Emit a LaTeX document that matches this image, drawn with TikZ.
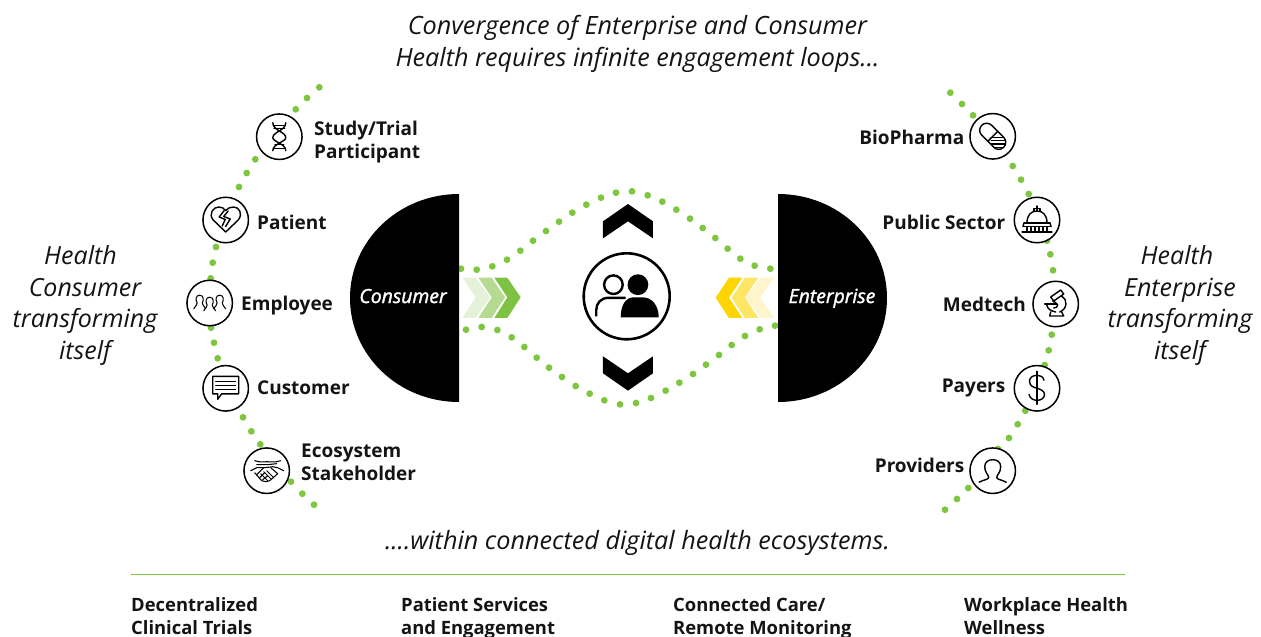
\documentclass[tikz,border=0pt]{standalone}
\usepackage{fontspec}
\setmainfont{Open Sans}
\newfontfamily\semiit[UprightFont={* Italic},FakeBold=1.6]{Open Sans}
\definecolor{gdot}{HTML}{7FC640}
\definecolor{g1}{HTML}{7DC242}
\definecolor{g2}{HTML}{B5DB93}
\definecolor{g3}{HTML}{E5F1D9}
\definecolor{y1}{HTML}{FFD500}
\definecolor{y2}{HTML}{FFE566}
\definecolor{y3}{HTML}{FFF5CC}
\tikzset{
  ring/.style={circle,draw=black,fill=white,line width=1.5pt,minimum size=45.5pt,inner sep=0pt},
  lab/.style={font=\fontsize{19}{22.8}\selectfont\bfseries,align=left,inner sep=0pt,text=black!92},
  lowlab/.style={font=\fontsize{18.4}{23}\selectfont\bfseries,align=left,inner sep=0pt,text=black!92},
  head/.style={font=\fontsize{25.2}{32}\selectfont\itshape,align=center,inner sep=0pt,text=black!92},
  side/.style={font=\fontsize{25}{31.7}\selectfont\itshape,align=center,inner sep=0pt,text=black!92},
  disclab/.style={font=\fontsize{19.4}{22}\selectfont\semiit,text=white,inner sep=0pt,anchor=base},
  ico/.style={line width=1.4pt,line join=round,line cap=round},
  thin ico/.style={line width=1.05pt,line join=round,line cap=round},
}
\begin{document}
\begin{tikzpicture}[x=1pt,y=-1pt]
\useasboundingbox (0,0) rectangle (1261,637);
% dotted arcs
\foreach \x/\y in {319.3/87.3,307/98,295.7/109.3,255.3/159.3,246.7/173,239/187,216/247,212.7/262.7,210.7/278.3,211/327.7,214/342.7,217.7/358.3,243/417.3,251.3/431.3,260.3/444.3,291/481.7,302.3/493.7,314/504.7,
950.3/92.7,962/104,973/115.3,1012.7/166,1021/179.7,1028.7/194,1047/240.7,1050.3/254.3,1053/270.3,1051.7/334.7,1048.7/350.3,1044.7/365,1025.3/410.7,1017.7/424.3,1009/438,998/449,968.3/488,957/499,945/509.7}
  \fill[gdot] (\x,\y) circle (3.4);
\foreach \x/\y in {33/266,80/269,127/259,171/239,211/212,249/182,288/153,327/125,367/98,409/74,453/53,498/38,546/34,593/46,637/65,679/89,720/116,758/144,796/174,833/206,871/236,914/257,961/266,
48/449,95/441,142/450,185/472,223/501,260/533,297/563,336/591,377/618,419/641,463/661,510/673,558/669,603/654,647/632,688/608,729/582,768/554,807/525,845/495,885/468,929/448,975/437}
  \fill[gdot] (450+\x/3,180+\y/3) circle (3.4);
% half discs
\fill[black] (459,194) arc[start angle=-90,end angle=-270,x radius=109,y radius=104] -- cycle;
\fill[black] (778,194) arc[start angle=-90,end angle=90,x radius=109,y radius=104] -- cycle;
\node[disclab] (consumer) at (403,303) {Consumer};
\node[disclab] (enterprise) at (832,303) {Enterprise};
% chevrons
\begin{scope}[shift={(450,180)},x=.3333pt,y=-.3333pt]
\fill[g3] (37,293)--(77,293)--(120,352)--(77,414)--(37,414)--(77,352)--cycle;
\fill[g2] (85,293)--(125,293)--(165,352)--(125,414)--(85,414)--(125,352)--cycle;
\fill[g1] (133,293)--(172,293)--(212,352)--(172,414)--(133,414)--(172,352)--cycle;
\fill[y3] (973,293)--(933,293)--(887,353)--(933,414)--(973,414)--(930,353)--cycle;
\fill[y2] (925,293)--(885,293)--(845,353)--(885,414)--(925,414)--(885,353)--cycle;
\fill[y1] (877,293)--(837,293)--(797,353)--(837,414)--(877,414)--(837,353)--cycle;
\fill[black] (459,124)--(534,72)--(609,124)--(609,175)--(534,124)--(459,175)--cycle;
\fill[black] (459,529)--(534,580)--(609,529)--(609,580)--(534,632)--(459,580)--cycle;
\end{scope}
% centre icon
\node[circle,draw=black,line width=2.6pt,minimum size=86pt,inner sep=0pt] (users) at (626.7,296.3) {};
\begin{scope}[shift={(users.center)}]
\draw[line width=2.4pt] (-13.3,-11.6) circle (9.3);
\fill (11.2,-11.6) circle (10.4);
\draw[line width=2.4pt] (-30.5,20) -- (-30.5,14) .. controls (-30.5,7) and (-26,1.5) .. (-18,1.5) -- (-1,1.5);
\fill (-6,21) .. controls (-6,9) and (-1,1) .. (7,1) -- (16,1) .. controls (25,1) and (32,9) .. (32,21) -- cycle;
\end{scope}
% rings
\node[ring] (study) at (279.3,136.7) {};
\node[ring] (patient) at (225.7,220) {};
\node[ring] (employee) at (209.7,303) {};
\node[ring] (customer) at (225.7,388.3) {};
\node[ring] (eco) at (266.7,470.7) {};
\node[ring] (bio) at (992.7,136.3) {};
\node[ring] (public) at (1037,220) {};
\node[ring] (medtech) at (1055.7,304) {};
\node[ring] (payers) at (1037,388.3) {};
\node[ring] (providers) at (992.7,470.7) {};
% DNA
\begin{scope}[shift={(study.center)},ico]
\draw (-6.5,-14) .. controls (-6.5,-6) and (6.5,-5) .. (6.5,1) .. controls (6.5,5) and (-6.5,7) .. (-6.5,14);
\draw (6.5,-14) .. controls (6.5,-6) and (-6.5,-5) .. (-6.5,1) .. controls (-6.5,5) and (6.5,7) .. (6.5,14);
\draw[thin ico] (-6,-11.5)--(6,-11.5) (-5.5,-8)--(5.5,-8) (-4.5,8)--(4.5,8) (-6,11.5)--(6,11.5);
\end{scope}
% broken heart
\begin{scope}[shift={(patient.center)},ico]
\draw (0,12) -- (-12.5,0) .. controls (-17.5,-6) and (-12.5,-13) .. (-7,-13) .. controls (-4,-13) and (-2,-12) .. (0,-9.5) .. controls (2,-12) and (5,-13) .. (8,-13) .. controls (13.5,-13) and (17.5,-6) .. (12.5,0) -- cycle;
\draw (-1.5,-9.5) -- (-6.5,-3) -- (-.5,-.5) -- (-3.5,6);
\draw (2.5,-9) -- (-2,-3.5) -- (4.5,-1) -- (0,6.5);
\end{scope}
% people
\begin{scope}[shift={(employee.center)},thin ico]
\foreach \d/\e/\s in {-10/-1/.85,0/1/.85,10/-1/.85}{
\begin{scope}[shift={(\d,\e)},scale=\s]
\draw (-7,8) .. controls (-6,4) and (-2,4) .. (-3,1) .. controls (-5,-2) and (-5,-8) .. (0,-8) .. controls (5,-8) and (5,-2) .. (3,1) .. controls (2,4) and (6,4) .. (7,8);
\end{scope}}
\end{scope}
% speech
\begin{scope}[shift={(customer.center)},ico]
\draw (-13,-12) -- (13,-12) -- (13,5.5) -- (-4,5.5) -- (-8,11) -- (-8,5.5) -- (-13,5.5) -- cycle;
\draw[thin ico] (-10,-7)--(10,-7) (-10,-3)--(10,-3) (-10,1)--(10,1);
\end{scope}
% handshake
\begin{scope}[shift={(eco.center)},thin ico]
\draw (-12,-10) .. controls (-6,-8) and (-3,-9) .. (0,-9) .. controls (4,-9) and (8,-8) .. (14,-10);
\draw (-10,-6) -- (-2,-6) .. controls (3,-6) and (8,-7) .. (10,-7);
\draw (-16,0) -- (-10,-3) -- (-2,-3) -- (6,-4) -- (11,-3) -- (17,0);
\draw (-12,2) -- (-5,10) -- (-1,11) -- (3,10) -- (11,3) -- (4,-3);
\draw (-6,3) -- (1,10) (-3,1) -- (4,8) (0,0) -- (7,7);
\draw (-10,4) -- (-3,-3) (-7,7) -- (-2,2) (-4,9) -- (1,5);
\end{scope}
% pill (y is flipped, so a negative angle tilts it down to the right)
\begin{scope}[shift={(bio.center)},ico]
\draw[rotate=-45,rounded corners=6.9pt] (-15.5,-7) rectangle (15.5,7);
\draw[rotate=-45] (0,-7) -- (0,7);
\begin{scope}
\clip[rotate=-45,rounded corners=6.9pt] (0,-7) rectangle (15.5,7) (0,-7) rectangle (0,7);
\draw[thin ico] (-12,1)--(20,1) (-12,4.3)--(20,4.3) (-12,7.7)--(20,7.7) (-12,11)--(20,11);
\end{scope}
\end{scope}
% capitol
\begin{scope}[shift={(public.center)},ico]
\draw (-13,3) -- (13,3) (-14,6.5) -- (14,6.5);
\draw (-13,3) -- (-14,6.5) (13,3) -- (14,6.5);
\draw (-10,3) .. controls (-10,-5) and (-6,-9) .. (0,-9) .. controls (6,-9) and (10,-5) .. (10,3);
\draw (0,-9) -- (0,-14);
\draw (-3,-9) -- (-3,-11.5) -- (3,-11.5) -- (3,-9);
\draw[thin ico] (-15,12) -- (15,12);
\foreach \d in {-11,-7,-3,1,5,9} \draw[thin ico] (\d+1,7.5)--(\d+1,10.5);
\end{scope}
% microscope
\begin{scope}[shift={(medtech.center)},ico]
\draw (-5,-7) -- (5,-14) -- (8,-10) -- (-2,-3) -- cycle;
\draw (6,-8) .. controls (12,-5) and (12,5) .. (4,8);
\draw (-11,0) -- (1,0);
\draw (-9,1) .. controls (-8,5) and (-5,7) .. (0,8);
\draw (-3,-3) .. controls (-1,-2) and (1,-1) .. (2,1) .. controls (2,3) and (0,4) .. (-2,4);
\draw (-5,8) -- (-6,12) -- (8,12) -- (6,8);
\end{scope}
% dollar
\begin{scope}[shift={(payers.center)},ico]
\draw (0,-17) -- (0,16);
\draw (7,-8) .. controls (6,-12) and (3,-13) .. (0,-13) .. controls (-5,-13) and (-7.5,-10) .. (-7.5,-7) .. controls (-7.5,-2) and (-3,-1) .. (0,0) .. controls (4,1) and (7.5,3) .. (7.5,6) .. controls (7.5,10) and (4,12) .. (0,12) .. controls (-4,12) and (-7,10) .. (-8,6);
\end{scope}
% provider
\begin{scope}[shift={(providers.center)},ico]
\draw (-13.5,11.5) .. controls (-9,9) and (-5,9) .. (-4,7) .. controls (-4,4) and (-8,2) .. (-8,-4) .. controls (-8,-9) and (-4,-11) .. (0,-11) .. controls (4,-11) and (8,-9) .. (8,-4) .. controls (8,2) and (4,4) .. (4,7) .. controls (5,9) and (9,9) .. (13.5,11.5);
\end{scope}
% labels
\node[lab,anchor=west] (l1) at (314,142) {Study/Trial\\Participant};
\node[lab,anchor=west] (l2) at (257,222) {Patient};
\node[lab,anchor=west] (l3) at (241,305.5) {Employee};
\node[lab,anchor=west] (l4) at (257,388) {Customer};
\node[lab,anchor=west] (l5) at (301,462) {Ecosystem\\Stakeholder};
\node[lab,anchor=east] (r1) at (964.5,137) {BioPharma};
\node[lab,anchor=east] (r2) at (1005.5,222) {Public Sector};
\node[lab,anchor=east] (r3) at (1026,304) {Medtech};
\node[lab,anchor=east] (r4) at (1005.5,388) {Payers};
\node[lab,anchor=east] (r5) at (964.5,465) {Providers};
\node[head] (t1) at (637.5,43.5) {Convergence of Enterprise and Consumer\\Health requires infinite engagement loops...};
\node[head] (t2) at (637.5,542.5) {....within connected digital health ecosystems.};
\node[side] (s1) at (85,305.5) {Health\hspace*{9pt}\\Consumer\\transforming\\itself};
\node[side] (s2) at (1180,305.5) {Health\hspace*{6pt}\\Enterprise\\transforming\\itself};
\coordinate (ruleL) at (131,574.5);
\coordinate (ruleR) at (1125,574.5);
\draw[g1,line width=1.3pt] (ruleL) -- (ruleR);
\node[lowlab,anchor=north west] (b1) at (131,597.5) {Decentralized\\Clinical Trials};
\node[lowlab,anchor=north west] (b2) at (401,597.5) {Patient Services\\and Engagement};
\node[lowlab,anchor=north west] (b3) at (673,597.5) {Connected Care/\\Remote Monitoring};
\node[lowlab,anchor=north west] (b4) at (964,597.5) {Workplace Health\\Wellness};
\end{tikzpicture}
\end{document}
